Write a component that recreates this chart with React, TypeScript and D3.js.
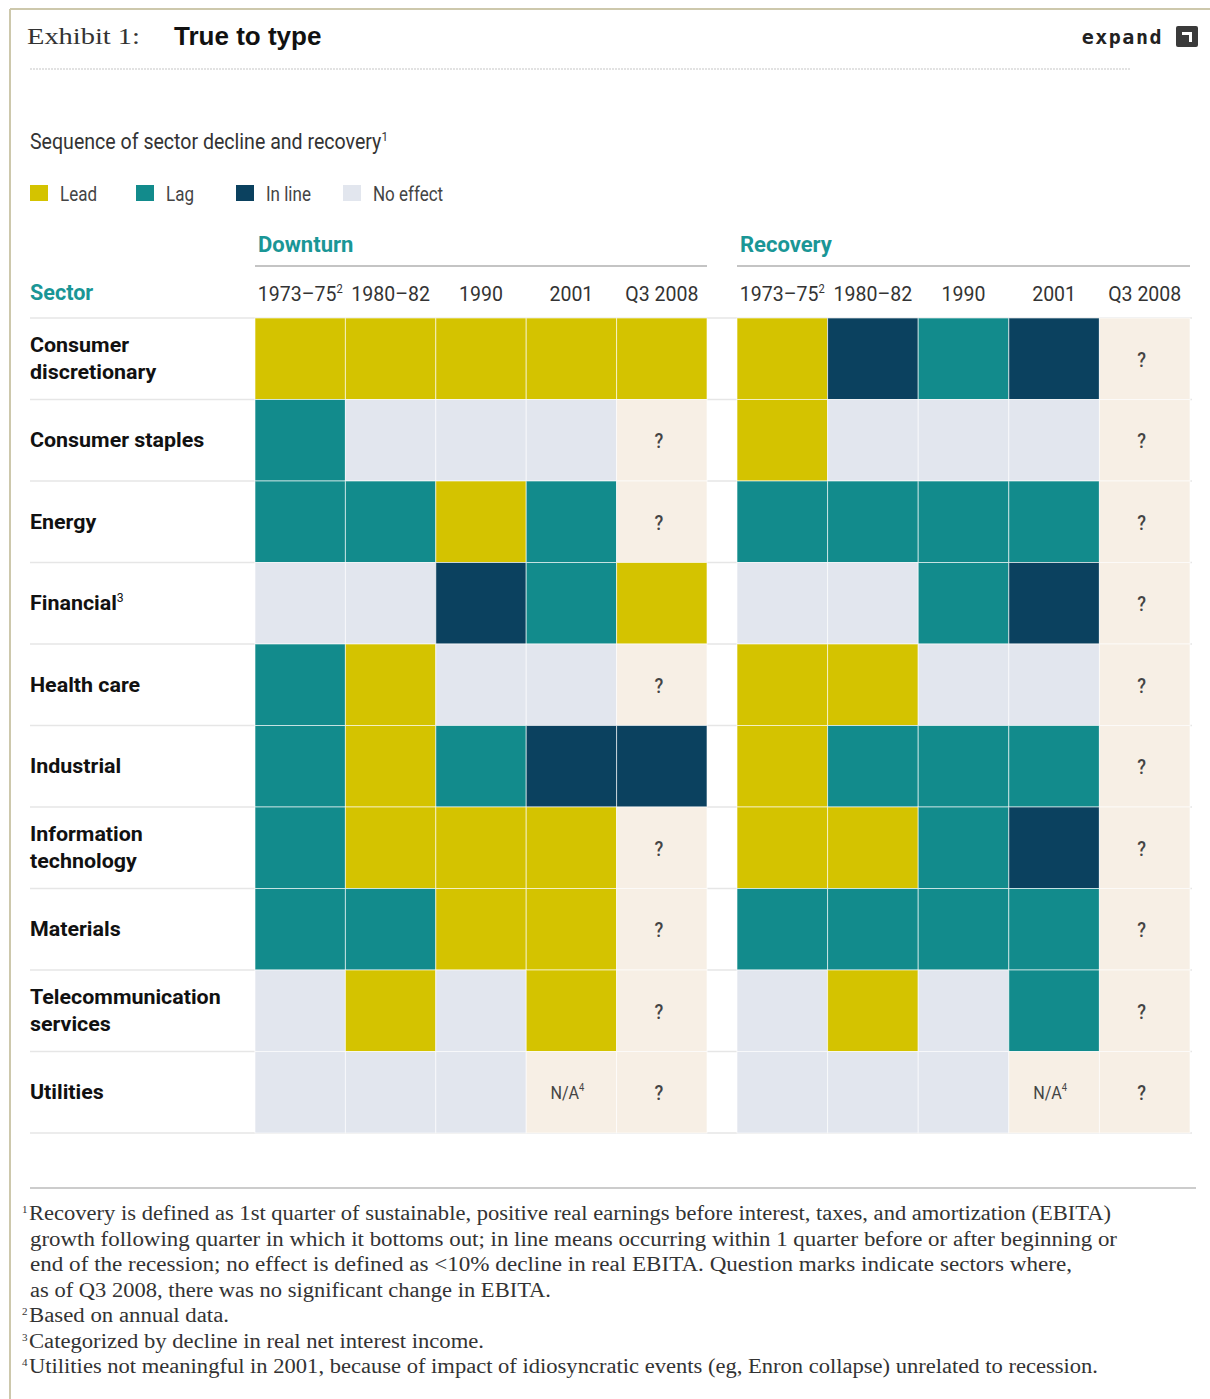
import React from "react";
import * as d3 from "d3";

const periods = ["1973–75", "1980–82", "1990", "2001", "Q3 2008"];
const periodSup = ["2", "", "", "", ""];
const sectors = [
  ["Consumer", "discretionary"],
  ["Consumer staples"],
  ["Energy"],
  ["Financial"],
  ["Health care"],
  ["Industrial"],
  ["Information", "technology"],
  ["Materials"],
  ["Telecommunication", "services"],
  ["Utilities"],
];
const sectorSup = ["", "", "", "3", "", "", "", "", "", ""];
// L = lead, G = lag, I = in line, N = no effect, Q = ?, A = N/A
const downturn = [
  ["L", "L", "L", "L", "L"],
  ["G", "N", "N", "N", "Q"],
  ["G", "G", "L", "G", "Q"],
  ["N", "N", "I", "G", "L"],
  ["G", "L", "N", "N", "Q"],
  ["G", "L", "G", "I", "I"],
  ["G", "L", "L", "L", "Q"],
  ["G", "G", "L", "L", "Q"],
  ["N", "L", "N", "L", "Q"],
  ["N", "N", "N", "A", "Q"],
];
const recovery = [
  ["L", "I", "G", "I", "Q"],
  ["L", "N", "N", "N", "Q"],
  ["G", "G", "G", "G", "Q"],
  ["N", "N", "G", "I", "Q"],
  ["L", "L", "N", "N", "Q"],
  ["L", "G", "G", "G", "Q"],
  ["L", "L", "G", "I", "Q"],
  ["G", "G", "G", "G", "Q"],
  ["N", "L", "N", "G", "Q"],
  ["N", "N", "N", "A", "Q"],
];
const legendKeys = ["L", "G", "I", "N"];
const legendLabels = ["Lead", "Lag", "In line", "No effect"];
const footnotes = [
  { sup: "1", text: "Recovery is defined as 1st quarter of sustainable, positive real earnings before interest, taxes, and amortization (EBITA)", w: 1082 },
  { sup: "", text: "growth following quarter in which it bottoms out; in line means occurring within 1 quarter before or after beginning or", w: 1087 },
  { sup: "", text: "end of the recession; no effect is defined as <10% decline in real EBITA. Question marks indicate sectors where,", w: 1042 },
  { sup: "", text: "as of Q3 2008, there was no significant change in EBITA.", w: 521 },
  { sup: "2", text: "Based on annual data.", w: 200 },
  { sup: "3", text: "Categorized by decline in real net interest income.", w: 455 },
  { sup: "4", text: "Utilities not meaningful in 2001, because of impact of idiosyncratic events (eg, Enron collapse) unrelated to recession.", w: 1069 },
];

const colorScale = d3
  .scaleOrdinal<string, string>()
  .domain(["L", "G", "I", "N", "Q", "A"])
  .range(["#d4c300", "#128b8c", "#0b415f", "#e2e6ee", "#f7efe5", "#f7efe5"]);

const COND = "Roboto, 'Noto Sans', sans-serif";
const SERIF = "'Liberation Serif', 'DejaVu Serif', serif";
const TEAL = "#1a9696";

function CText(props: {
  x: number;
  y: number;
  sx: number;
  anchor?: string;
  size: number;
  weight?: string;
  fill: string;
  children: React.ReactNode;
}) {
  return (
    <text
      transform={`translate(${props.x},${props.y}) scale(${props.sx},1)`}
      textAnchor={props.anchor || "start"}
      fontFamily={COND}
      fontSize={props.size}
      fontWeight={props.weight || "normal"}
      fill={props.fill}
    >
      {props.children}
    </text>
  );
}

export default function App() {
  const W = 1210;
  const H = 1399;
  const idx = d3.range(periods.length);
  const xDown = d3.scaleBand<number>().domain(idx).range([255, 707]).paddingInner(0);
  const xRec = d3.scaleBand<number>().domain(idx).range([737, 1190]).paddingInner(0);
  const y = d3.scaleBand<number>().domain(d3.range(sectors.length)).range([318, 1133]);
  const rowH = y.bandwidth();

  const panels = [
    { name: "Downturn", x: xDown, data: downturn },
    { name: "Recovery", x: xRec, data: recovery },
  ];

  const legendX = [30, 136, 236, 343];

  return (
    <svg width={W} height={H} style={{ position: "absolute", left: 0, top: 0, background: "#fff" }}>
      <rect x={0} y={0} width={W} height={H} fill="#fff" />
      {/* frame */}
      <line x1={10} x2={W} y1={9} y2={9} stroke="#cdc8ac" strokeWidth={2} />
      <line x1={10} x2={10} y1={9} y2={H} stroke="#cdc8ac" strokeWidth={2} />
      {/* header */}
      <text x={27} y={44} fontFamily={SERIF} fontSize={24} fill="#333" textLength={113} lengthAdjust="spacingAndGlyphs">
        Exhibit 1:
      </text>
      <text x={174} y={45} fontFamily="'Liberation Sans', Arial, sans-serif" fontWeight="bold" fontSize={26} fill="#111">
        True to type
      </text>
      <text x={1163} y={44} textAnchor="end" fontFamily="'DejaVu Sans Mono', 'Liberation Mono', monospace" fontWeight="bold" fontSize={20} fill="#222" letterSpacing={1.5}>
        expand
      </text>
      <rect x={1176} y={26} width={22} height={21} rx={2} fill="#3a3a3a" />
      <path d="M1182,32 H1192 V42 H1189 V35 H1182 Z" fill="#fff" />
      <line x1={30} x2={1130} y1={69} y2={69} stroke="#e2e2e2" strokeWidth={2} strokeDasharray="2,1" />

      {/* subtitle */}
      <CText x={30} y={149} sx={0.89} size={22} fill="#333">
        Sequence of sector decline and recovery
        <tspan fontSize={13} dy={-8}>1</tspan>
      </CText>

      {/* legend */}
      {legendKeys.map((k, i) => (
        <g key={k}>
          <rect x={legendX[i]} y={185} width={18} height={16} fill={colorScale(k)} />
          <CText x={legendX[i] + 30} y={201} sx={0.81} size={21} fill="#444">
            {legendLabels[i]}
          </CText>
        </g>
      ))}

      {/* Sector heading */}
      <CText x={30} y={300} sx={0.98} size={22} weight="bold" fill={TEAL}>
        Sector
      </CText>

      {/* row separators */}
      {d3.range(sectors.length + 1).map((r) => {
        const yy = r < sectors.length ? (y(r) as number) : (y(sectors.length - 1) as number) + rowH;
        return <line key={r} x1={30} x2={1192} y1={yy} y2={yy} stroke="#e6e6e6" strokeWidth={1.5} />;
      })}

      {panels.map((p) => {
        const x0 = p.x.range()[0];
        const x1 = p.x.range()[1];
        const bw = p.x.bandwidth();
        return (
          <g key={p.name}>
            <CText x={x0 + 3} y={252} sx={1.0} size={22} weight="bold" fill={TEAL}>
              {p.name}
            </CText>
            <line x1={x0} x2={x1} y1={266} y2={266} stroke="#8a8a8a" strokeWidth={1.2} />
            {periods.map((per, i) => (
              <CText key={per} x={(p.x(i) as number) + bw / 2} y={301} sx={0.93} anchor="middle" size={21} fill="#333">
                {per}
                {periodSup[i] ? (
                  <tspan fontSize={12} dy={-8}>
                    {periodSup[i]}
                  </tspan>
                ) : null}
              </CText>
            ))}
            {p.data.map((row, r) =>
              row.map((v, c) => {
                const cx = p.x(c) as number;
                const cy = y(r) as number;
                return (
                  <g key={`${r}-${c}`}>
                    <rect x={cx} y={cy} width={bw} height={rowH} fill={colorScale(v)} stroke="#ffffff" strokeOpacity={0.6} strokeWidth={1} />
                    {v === "Q" ? (
                      <CText x={cx + bw / 2 - 3} y={cy + rowH / 2 + 8} sx={0.9} anchor="middle" size={20} weight="500" fill="#444">
                        ?
                      </CText>
                    ) : null}
                    {v === "A" ? (
                      <CText x={cx + bw / 2 - 4} y={cy + rowH / 2 + 7} sx={0.85} anchor="middle" size={19} fill="#444">
                        N/A
                        <tspan fontSize={11} dy={-8}>4</tspan>
                      </CText>
                    ) : null}
                  </g>
                );
              })
            )}
          </g>
        );
      })}

      {/* row labels */}
      {sectors.map((lines, r) => {
        const cy = (y(r) as number) + rowH / 2;
        const startY = cy + 7 - ((lines.length - 1) * 27) / 2;
        return (
          <g key={r}>
            {lines.map((ln, j) => (
              <CText key={j} x={30} y={startY + j * 27} sx={1.02} size={21} weight="bold" fill="#111">
                {ln}
                {j === lines.length - 1 && sectorSup[r] ? (
                  <tspan fontSize={12} fontWeight="normal" dy={-8}>
                    {sectorSup[r]}
                  </tspan>
                ) : null}
              </CText>
            ))}
          </g>
        );
      })}

      {/* footnotes */}
      <line x1={30} x2={1196} y1={1188} y2={1188} stroke="#9a9a9a" strokeWidth={1.2} />
      {footnotes.map((f, i) => (
        <g key={i}>
          {f.sup ? (
            <text x={22} y={1213 + i * 25.5} fontFamily={SERIF} fontSize={11} fill="#333">
              {f.sup}
            </text>
          ) : null}
          <text
            x={f.sup ? 29 : 30}
            y={1220 + i * 25.5}
            fontFamily={SERIF}
            fontSize={20}
            fill="#333"
            textLength={f.w}
            lengthAdjust="spacingAndGlyphs"
          >
            {f.text}
          </text>
        </g>
      ))}
    </svg>
  );
}
